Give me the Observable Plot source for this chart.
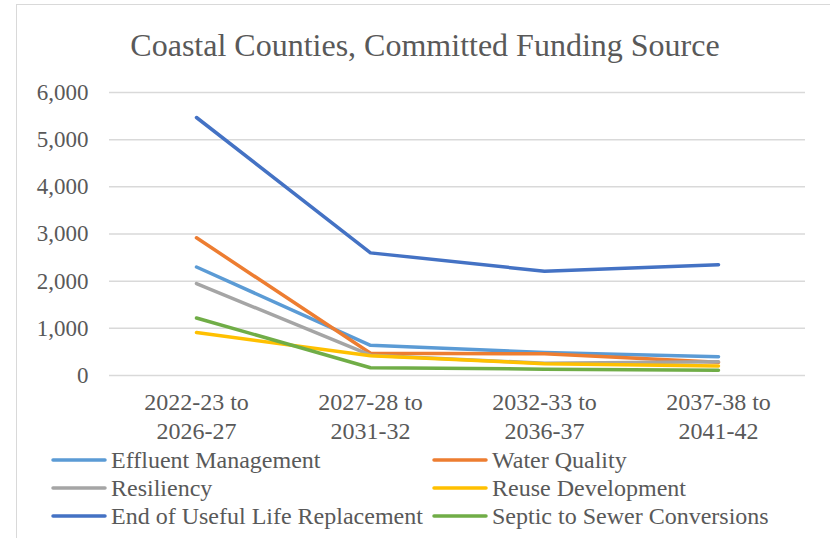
<!DOCTYPE html>
<html>
<head>
<meta charset="utf-8">
<script src="https://cdn.jsdelivr.net/npm/d3@7"></script>
<script src="https://cdn.jsdelivr.net/npm/@observablehq/plot@0.6"></script>
<style>
  html, body { margin: 0; padding: 0; background: #fff; }
  #wrap { position: relative; width: 830px; height: 538px; overflow: hidden; font-family: "Liberation Serif", "Times New Roman", serif; color: #595959; }
  #frame { position: absolute; left: 16px; top: 4px; width: 900px; height: 700px; border-left: 1.5px solid #d9d9d9; border-top: 1.5px solid #d9d9d9; }
  #title { position: absolute; left: 0; width: 850px; top: 26px; text-align: center; font-size: 32px; line-height: 38px; }
  #chart { position: absolute; left: 0; top: 0; }
  .leg { position: absolute; font-size: 24px; line-height: 28px; white-space: nowrap; display: flex; align-items: center; }
  .leg svg { margin-right: 3px; }
</style>
</head>
<body>
<div id="wrap">
  <div id="frame"></div>
  <div id="chart"></div>
  <div id="title">Coastal Counties, Committed Funding Source</div>
  <div id="legend"></div>
</div>
<script>
const periods = ["2022-23 to\n2026-27", "2027-28 to\n2031-32", "2032-33 to\n2036-37", "2037-38 to\n2041-42"];
const seriesNames = ["Effluent Management", "Water Quality", "Resiliency", "Reuse Development", "End of Useful Life Replacement", "Septic to Sewer Conversions"];
const effluentManagement = [2300, 640, 490, 400];
const waterQuality = [2920, 470, 460, 280];
const resiliency = [1950, 430, 260, 290];
const reuseDevelopment = [910, 420, 250, 200];
const endOfUsefulLife = [5470, 2600, 2210, 2350];
const septicToSewer = [1220, 165, 135, 110];
const yTicks = [0, 1000, 2000, 3000, 4000, 5000, 6000];
const colors = ["#5B9BD5", "#ED7D31", "#A5A5A5", "#FFC000", "#4472C4", "#70AD47"];

const valuesBySeries = [effluentManagement, waterQuality, resiliency, reuseDevelopment, endOfUsefulLife, septicToSewer];
const data = [];
seriesNames.forEach((s, si) => {
  periods.forEach((p, pi) => data.push({series: s, period: p, value: valuesBySeries[si][pi]}));
});

const chart = Plot.plot({
  width: 830,
  height: 538,
  marginTop: 92,
  marginBottom: 163,
  marginLeft: 109,
  marginRight: 25,
  style: {fontFamily: "'Liberation Serif', 'Times New Roman', serif", fontSize: "23px", color: "#595959", background: "transparent"},
  x: {type: "point", domain: periods, padding: 0.5, label: null},
  y: {domain: [0, 6000], label: null},
  color: {domain: seriesNames, range: colors},
  marks: [
    Plot.gridY(yTicks, {stroke: "#d9d9d9", strokeOpacity: 1, strokeWidth: 1.5}),
    Plot.axisY(yTicks, {tickSize: 0, tickPadding: 21, tickFormat: d3.format(","), fill: "#595959", fontSize: 23, label: null}),
    Plot.axisX({tickSize: 0, tickPadding: 15, fill: "#595959", fontSize: 24, lineHeight: 1.17, label: null}),
    Plot.line(data, {x: "period", y: "value", z: "series", stroke: "series", strokeWidth: 3.5, strokeLinecap: "round", strokeLinejoin: "round"})
  ]
});
document.getElementById("chart").appendChild(chart);

// legend
const legend = document.getElementById("legend");
const cols = [50, 431];
const rows = [460, 488, 516];
seriesNames.forEach((s, i) => {
  const div = document.createElement("div");
  div.className = "leg";
  div.style.left = cols[i % 2] + "px";
  div.style.top = (rows[Math.floor(i / 2)] - 14) + "px";
  div.innerHTML = `<svg width="58" height="6"><line x1="3" y1="3" x2="55" y2="3" stroke="${colors[i]}" stroke-width="3.5" stroke-linecap="round"/></svg><span>${s}</span>`;
  legend.appendChild(div);
});
</script>
</body>
</html>
